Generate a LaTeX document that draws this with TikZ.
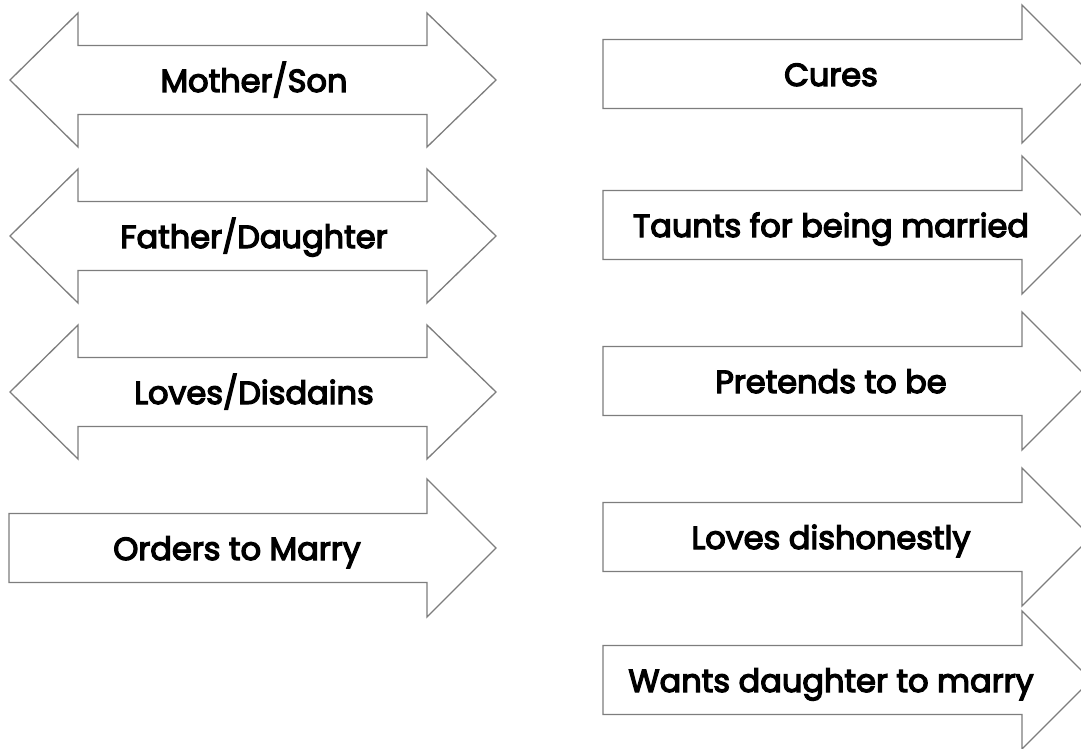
\documentclass[tikz,border=0pt]{standalone}
\usepackage{fontspec}
\setmainfont{Poppins}
\newfontfamily\lblfont{Poppins}[FakeBold=4]
\definecolor{edgegray}{RGB}{125,125,125}
\begin{document}
\begin{tikzpicture}[x=1pt,y=-1pt,
  arrowshape/.style={draw=edgegray,line width=1.3pt,fill=white,line join=miter},
  lbl/.style={anchor=base,inner sep=0pt,font=\lblfont\fontsize{32}{38}\selectfont,text=black}]
\useasboundingbox (0,0) rectangle (1081,749);
\clip (0,0) rectangle (1081,749);
% double arrows: center y
\newcommand\dblarr[1]{%
  \draw[arrowshape] (10,#1) -- (78,#1-67) -- (78,#1-34.5) -- (427,#1-34.5) -- (427,#1-67)
    -- (496,#1) -- (427,#1+67) -- (427,#1+34.5) -- (78,#1+34.5) -- (78,#1+67) -- cycle;}
% single right arrows: left x, base x, tip x, center y
\newcommand\sglarr[4]{%
  \draw[arrowshape] (#1,#4-34.5) -- (#2,#4-34.5) -- (#2,#4-69) -- (#3,#4) -- (#2,#4+69)
    -- (#2,#4+34.5) -- (#1,#4+34.5) -- cycle;}
\dblarr{80}
\dblarr{236}
\dblarr{392}
\sglarr{9}{427}{496}{548}
\sglarr{603}{1022}{1091}{74}
\sglarr{603}{1022}{1091}{225}
\sglarr{603}{1022}{1091}{381}
\sglarr{603}{1022}{1091}{537}
\sglarr{603}{1022}{1091}{680}
\node[lbl] (ms) at (254,92) {Mother/Son};
\node[lbl] (fd) at (254,248) {Father/Daughter};
\node[lbl] (ld) at (254,404) {Loves/Disdains};
\node[lbl] (om) at (237,560) {Orders to Marry};
\node[lbl] (cu) at (831,86) {Cures};
\node[lbl] (tf) at (831,237) {Taunts for being married};
\node[lbl] (pt) at (831,393) {Pretends to be};
\node[lbl] (ldh) at (831,549) {Loves dishonestly};
\node[lbl] (wd) at (831,692) {Wants daughter to marry};
\end{tikzpicture}
\end{document}
